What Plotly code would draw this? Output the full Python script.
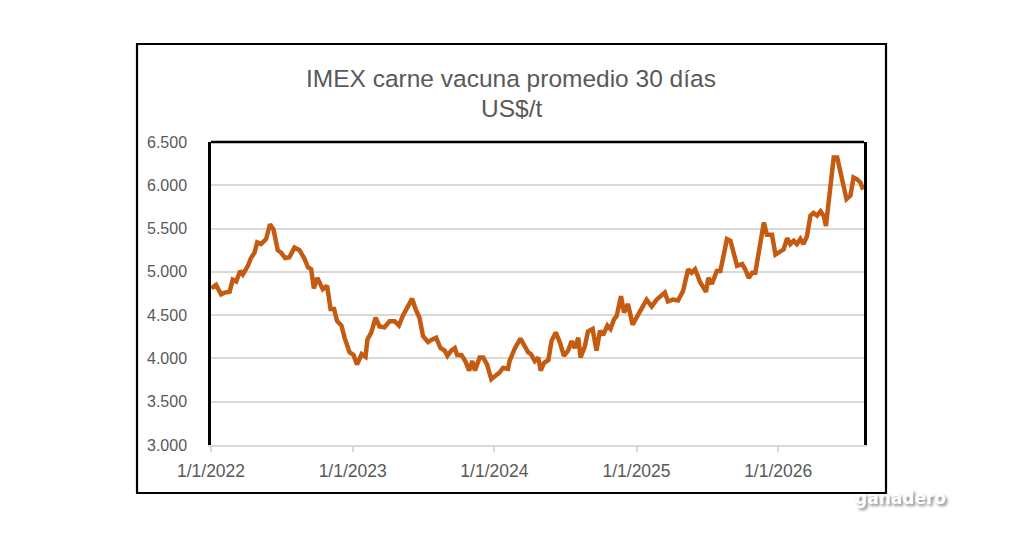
import plotly.graph_objects as go

# === DATOS ===
fechas = [
    "2022-01-02", "2022-01-14", "2022-01-27", "2022-02-05", "2022-02-18", "2022-02-26",
    "2022-03-07", "2022-03-17", "2022-03-24", "2022-04-06", "2022-04-14", "2022-04-23",
    "2022-04-30", "2022-05-10", "2022-05-23", "2022-06-02", "2022-06-11", "2022-06-22",
    "2022-07-01", "2022-07-11", "2022-07-22", "2022-08-04", "2022-08-17", "2022-08-30",
    "2022-09-08", "2022-09-16", "2022-09-23", "2022-10-02", "2022-10-16", "2022-10-27",
    "2022-11-05", "2022-11-14", "2022-11-22", "2022-12-03", "2022-12-11", "2022-12-24",
    "2023-01-03", "2023-01-12", "2023-01-24", "2023-02-03", "2023-02-08", "2023-02-18",
    "2023-03-01", "2023-03-11", "2023-03-24", "2023-04-06", "2023-04-19", "2023-04-30",
    "2023-05-10", "2023-05-23", "2023-06-03", "2023-06-12", "2023-06-22", "2023-07-01",
    "2023-07-14", "2023-07-25", "2023-08-04", "2023-08-15", "2023-08-26", "2023-09-02",
    "2023-09-12", "2023-09-21", "2023-09-27", "2023-10-08", "2023-10-18", "2023-10-28",
    "2023-11-05", "2023-11-12", "2023-11-24", "2023-12-03", "2023-12-13", "2023-12-24",
    "2024-01-06", "2024-01-15", "2024-01-23", "2024-02-05", "2024-02-09", "2024-02-22",
    "2024-03-08", "2024-03-19", "2024-03-28", "2024-04-04", "2024-04-14", "2024-04-23",
    "2024-04-29", "2024-05-08", "2024-05-19", "2024-05-27", "2024-06-07", "2024-06-18",
    "2024-06-28", "2024-07-09", "2024-07-18", "2024-07-26", "2024-08-04", "2024-08-10",
    "2024-08-21", "2024-08-29", "2024-09-10", "2024-09-20", "2024-09-29", "2024-10-07",
    "2024-10-18", "2024-10-26", "2024-11-04", "2024-11-11", "2024-11-22", "2024-11-30",
    "2024-12-10", "2024-12-22", "2025-01-01", "2025-01-14", "2025-01-27", "2025-02-09",
    "2025-02-22", "2025-03-15", "2025-03-23", "2025-04-05", "2025-04-18", "2025-05-01",
    "2025-05-14", "2025-05-23", "2025-06-01", "2025-06-14", "2025-06-29", "2025-07-05",
    "2025-07-14", "2025-07-27", "2025-08-05", "2025-08-13", "2025-08-22", "2025-08-31",
    "2025-09-08", "2025-09-17", "2025-09-30", "2025-10-08", "2025-10-17", "2025-10-26",
    "2025-11-03", "2025-11-12", "2025-11-25", "2025-12-03", "2025-12-16", "2025-12-25",
    "2026-01-07", "2026-01-15", "2026-01-24", "2026-02-01", "2026-02-10", "2026-02-18",
    "2026-02-27", "2026-03-07", "2026-03-16", "2026-03-25", "2026-04-02", "2026-04-11",
    "2026-04-20", "2026-04-28", "2026-05-04", "2026-05-15", "2026-05-24", "2026-06-02",
    "2026-06-15", "2026-06-26", "2026-07-06", "2026-07-14", "2026-07-23", "2026-08-01",
    "2026-08-08",
]
valores = [
    4810, 4850, 4740, 4760, 4770, 4910,
    4890, 5010, 4970, 5070, 5160, 5220,
    5340, 5320, 5380, 5550, 5490, 5250,
    5220, 5160, 5170, 5280, 5250, 5150,
    5050, 5030, 4810, 4930, 4800, 4840,
    4570, 4570, 4430, 4380, 4240, 4070,
    4040, 3930, 4050, 4020, 4220, 4300,
    4470, 4370, 4360, 4430, 4430, 4380,
    4490, 4590, 4690, 4570, 4470, 4260,
    4190, 4220, 4240, 4120, 4090, 4030,
    4090, 4120, 4040, 4040, 3970, 3860,
    3970, 3860, 4010, 4010, 3930, 3760,
    3800, 3840, 3890, 3880, 3970, 4110,
    4230, 4140, 4070, 4050, 3970, 4010,
    3860, 3950, 3980, 4200, 4300, 4180,
    4030, 4090, 4200, 4120, 4240, 4010,
    4140, 4310, 4340, 4090, 4320, 4270,
    4380, 4340, 4450, 4490, 4720, 4530,
    4630, 4390, 4470, 4580, 4680, 4600,
    4680, 4760, 4660, 4680, 4670, 4780,
    5030, 4990, 5030, 4880, 4770, 4930,
    4860, 5010, 5010, 5180, 5380, 5360,
    5240, 5070, 5090, 5030, 4930, 4990,
    4990, 5220, 5570, 5430, 5430, 5200,
    5240, 5260, 5390, 5320, 5360, 5320,
    5380, 5320, 5410, 5650, 5680, 5650,
    5700, 5650, 5530, 5930, 6320, 6320,
    6030, 5840, 5880, 6090, 6070, 6030,
    5950,
]

anios_ticks = ["2022-01-01", "2023-01-01", "2024-01-01", "2025-01-01", "2026-01-01"]
textos_ticks = ["1/1/2022", "1/1/2023", "1/1/2024", "1/1/2025", "1/1/2026"]
y_ticks = [3000, 3500, 4000, 4500, 5000, 5500, 6000, 6500]

gris_texto = "#595959"

fig = go.Figure()

fig.add_trace(go.Scatter(
    x=fechas, y=valores, mode="lines",
    line=dict(color="#C55A11", width=4.5),
    showlegend=False,
    hovertemplate="%{x|%d/%m/%Y}<br>%{y:,.0f} US$/t<extra></extra>",
))

# márgenes compensados por el margen del <body> de la página (8 px)
fig.update_layout(
    width=1024, height=535,
    margin=dict(l=203, r=168, t=134, b=98),
    paper_bgcolor="white", plot_bgcolor="white",
    separators=",.",
    font=dict(family="Liberation Sans, Arial, sans-serif", color=gris_texto, size=16),
    showlegend=False,
)

fig.update_yaxes(
    range=[3000, 6500], tickvals=y_ticks, tickformat=",.0f",
    showgrid=True, gridcolor="#d9d9d9", gridwidth=1.5,
    zeroline=False, showline=True, mirror=True, linecolor="black", linewidth=2.5,
    ticks="", ticklabelstandoff=18, tickfont=dict(size=16, color=gris_texto),
)
fig.update_xaxes(
    range=["2022-01-01", "2026-08-10"], tickvals=anios_ticks, ticktext=textos_ticks,
    showgrid=False, zeroline=False, showline=True, linecolor="#d9d9d9", linewidth=1.5,
    ticks="outside", ticklen=5, tickcolor="#d9d9d9", tickwidth=1.5,
    ticklabelstandoff=4, tickfont=dict(size=17.5, color=gris_texto),
)

# borde superior del área de trazado
fig.add_shape(type="line", xref="paper", yref="paper", x0=0, x1=1, y0=1, y1=1,
              line=dict(color="black", width=2.5))
# recuadro exterior del gráfico
fig.add_shape(type="rect", xref="paper", yref="paper",
              x0=-0.1133, x1=1.0337, y0=-0.1584, y1=1.3234,
              line=dict(color="black", width=2.2), fillcolor="rgba(0,0,0,0)")

# título en dos líneas
fig.add_annotation(text="IMEX carne vacuna promedio 30 días", xref="paper", yref="paper",
                   x=0.46, y=1.2112, yanchor="middle", showarrow=False,
                   font=dict(family="Liberation Sans, Arial, sans-serif",
                             size=24.5, color=gris_texto))
fig.add_annotation(text="US$/t", xref="paper", yref="paper",
                   x=0.46, y=1.1122, yanchor="middle", showarrow=False,
                   font=dict(family="Liberation Sans, Arial, sans-serif",
                             size=24.5, color=gris_texto))

# marca de agua
fig.add_annotation(text="<b>ganadero</b>", xref="paper", yref="paper",
                   x=1.1286, y=-0.175, yanchor="middle", showarrow=False,
                   font=dict(family="DejaVu Sans, sans-serif", size=17, color="white",
                             shadow="2px 2px 3px #888"))

fig.write_html("out.html")
